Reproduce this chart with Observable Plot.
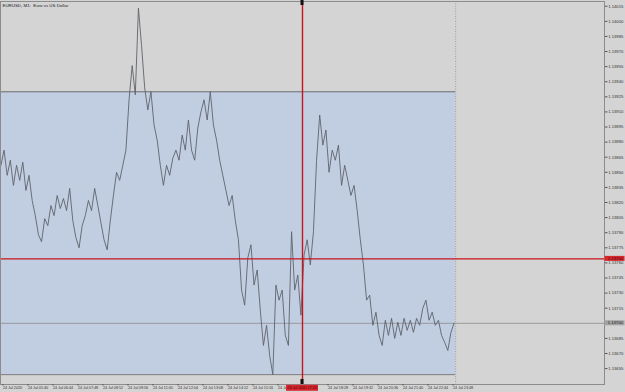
<!DOCTYPE html>
<html><head><meta charset="utf-8">
<script src="https://cdn.jsdelivr.net/npm/d3@7"></script>
<script src="https://cdn.jsdelivr.net/npm/@observablehq/plot@0.6"></script>
<style>
html,body{margin:0;padding:0;background:#d4d4d4;overflow:hidden;}
</style></head><body><div id="chart"></div>
<script>
// ---- data (minutes since 00:00 on 24 Jul 2020, EURUSD prices) ----
const chartTitle = "EURUSD, M1:  Euro vs US Dollar";
const startMinute = 272;
const stepMinutes = 8;
const prices = [
  1.13857,1.13872,1.13847,1.13862,1.13837,1.13857,1.13842,1.13860,1.13832,1.13847,
  1.13822,1.13807,1.13788,1.13781,1.13804,1.13797,1.13817,1.13807,1.13827,1.13814,
  1.13824,1.13812,1.13834,1.13802,1.13785,1.13775,1.13797,1.13807,1.13822,1.13812,
  1.13834,1.13817,1.13800,1.13783,1.13773,1.13802,1.13827,1.13850,1.13842,1.13857,
  1.13872,1.13922,1.13956,1.13927,1.14013,1.13976,1.13934,1.13912,1.13930,1.13897,
  1.13882,1.13857,1.13837,1.13857,1.13847,1.13864,1.13872,1.13862,1.13887,1.13872,
  1.13902,1.13872,1.13862,1.13894,1.13910,1.13922,1.13902,1.13930,1.13897,1.13882,
  1.13862,1.13847,1.13832,1.13817,1.13827,1.13802,1.13783,1.13733,1.13718,1.13765,
  1.13778,1.13738,1.13753,1.13713,1.13678,1.13698,1.13668,1.13649,1.13738,1.13723,
  1.13733,1.13688,1.13678,1.13791,1.13733,1.13748,1.13708,1.13768,1.13783,1.13758,
  1.13791,1.13862,1.13907,1.13877,1.13892,1.13850,1.13872,1.13862,1.13877,1.13837,
  1.13857,1.13842,1.13827,1.13837,1.13812,1.13783,1.13758,1.13723,1.13728,1.13698,
  1.13711,1.13688,1.13678,1.13703,1.13688,1.13705,1.13685,1.13701,1.13688,1.13705,
  1.13693,1.13703,1.13691,1.13705,1.13698,1.13715,1.13723,1.13703,1.13711,1.13698,
  1.13703,1.13688,1.13681,1.13673,1.13691,1.13700
];
const priceTicks = [
  1.14015,1.14000,1.13985,1.13970,1.13955,1.13940,1.13925,1.13910,1.13895,1.13880,
  1.13865,1.13850,1.13835,1.13820,1.13805,1.13790,1.13775,1.13760,1.13745,1.13730,
  1.13715,1.13700,1.13685,1.13670,1.13655
];
const timeTicks = [276,340,404,468,532,596,660,724,788,852,916,980,1044,1108,1172,1236,1300,1364,1428];
const timeLabels = ["24 Jul 2020","24 Jul 05:40","24 Jul 06:44","24 Jul 07:48","24 Jul 08:52",
  "24 Jul 09:56","24 Jul 11:00","24 Jul 12:04","24 Jul 13:08","24 Jul 14:12","24 Jul 15:16",
  "24 Jul 16:20","24 Jul 17:24","24 Jul 18:28","24 Jul 19:32","24 Jul 20:36","24 Jul 21:40",
  "24 Jul 22:44","24 Jul 23:48"];
const zoneTimes = [200, 1436];
const zoneLevels = [1.13649, 1.13930];
const separatorTime = 1436;
const crossTime = 1044;
const crossPrice = 1.13764;
const crossTimeLabel = "24 Jul 2020 17:24";
const bidPrice = 1.13700;
const xDomain = [270.9, 1817.1];
const yDomain = [1.136392, 1.140197];

// ---- chart ----
const FONT = "'Liberation Sans','DejaVu Sans',sans-serif";
const series = prices.map((p, i) => ({t: startMinute + i * stepMinutes, p}));
const labelMap = new Map(timeTicks.map((t, i) => [t, timeLabels[i]]));
// labels that sit under the crosshair / bid tags are covered in the original
const shownTimeTicks = timeTicks.filter(t => t !== crossTime);
const shownPriceTicks = priceTicks.filter(p => Math.abs(p - bidPrice) > 1e-7);
const zone = [{x1: zoneTimes[0], x2: zoneTimes[1], y1: zoneLevels[0], y2: zoneLevels[1]}];

const plot = Plot.plot({
  width: 625, height: 392,
  marginLeft: 0, marginRight: 21, marginTop: 1, marginBottom: 8,
  style: {background: "#d4d4d4", fontFamily: FONT, overflow: "visible"},
  x: {type: "linear", domain: xDomain},
  y: {domain: yDomain},
  marks: [
    Plot.rect(zone, {x1: "x1", x2: "x2", y1: "y1", y2: "y2", fill: "#c1cee2", clip: true}),
    Plot.ruleY([zoneLevels[1]], {x1: xDomain[0], x2: zoneTimes[1], stroke: "#6c6c6c", strokeWidth: 1}),
    Plot.ruleY([zoneLevels[0]], {x1: xDomain[0], x2: zoneTimes[1], stroke: "#7c7c7c", strokeWidth: 1}),
    Plot.ruleX([separatorTime], {stroke: "#888", strokeWidth: 0.7, strokeDasharray: "1,1.5"}),
    Plot.ruleY([bidPrice], {stroke: "#8a8a8a", strokeWidth: 0.8}),
    Plot.line(series, {x: "t", y: "p", stroke: "#5f636b", strokeWidth: 0.9}),
    Plot.ruleY([crossPrice], {stroke: "#c8141c", strokeWidth: 1.4}),
    Plot.ruleX([crossTime], {stroke: "#c8141c", strokeWidth: 1.4}),
    Plot.frame({stroke: "#8c8c8c", strokeWidth: 1}),
    Plot.axisY({anchor: "right", ticks: shownPriceTicks, tickFormat: d3.format(".5f"),
      tickSize: 2.5, tickPadding: 1.2, fontSize: 4.2, fill: "#333", stroke: "#555"}),
    Plot.axisX({anchor: "bottom", ticks: shownTimeTicks, tickFormat: d => labelMap.get(d),
      tickSize: 1.5, tickPadding: 0.8, fontSize: 3.7, textAnchor: "start", dx: 0.5, fill: "#333", stroke: "#555"}),
    Plot.text([chartTitle], {frameAnchor: "top-left", dx: 2, dy: 2.5, fontSize: 4.4, fill: "#222", textAnchor: "start"})
  ]
});
document.getElementById("chart").appendChild(plot);

// price/time tags on the axes, positioned through the plot's scales
const sx = plot.scale("x"), sy = plot.scale("y");
const svg = d3.select(plot);
const g = svg.append("g").attr("font-family", FONT).attr("font-size", 4.2).attr("text-anchor", "start");
const axisX0 = sx.apply(xDomain[1]);
function priceTag(value, bg, fg) {
  const y = sy.apply(value);
  g.append("rect").attr("x", axisX0 + 0.5).attr("y", y - 2.5).attr("width", 20).attr("height", 5).attr("fill", bg);
  g.append("text").attr("x", axisX0 + 3.7).attr("y", y).attr("dy", "0.35em").attr("text-anchor", "start")
    .attr("fill", fg).text(d3.format(".5f")(value));
}
priceTag(crossPrice, "#d9262d", "#3a0808");
priceTag(bidPrice, "#a3a3a3", "#222");
// crosshair time tag
const cx = sx.apply(crossTime);
const bottomY = sy.apply(yDomain[0]);
g.append("rect").attr("x", cx - 16).attr("y", bottomY + 0.8).attr("width", 32).attr("height", 6).attr("fill", "#d9262d");
g.append("text").attr("x", cx).attr("y", bottomY + 3.8).attr("dy", "0.35em").attr("text-anchor", "middle")
  .attr("font-size", 3.7).attr("fill", "#3a0808").text(crossTimeLabel);
// crosshair end markers
g.append("rect").attr("x", cx - 1.5).attr("y", 0).attr("width", 3).attr("height", 5).attr("fill", "#111");
g.append("rect").attr("x", cx - 1.5).attr("y", bottomY - 5).attr("width", 3).attr("height", 5).attr("fill", "#111");
</script>
</body></html>
